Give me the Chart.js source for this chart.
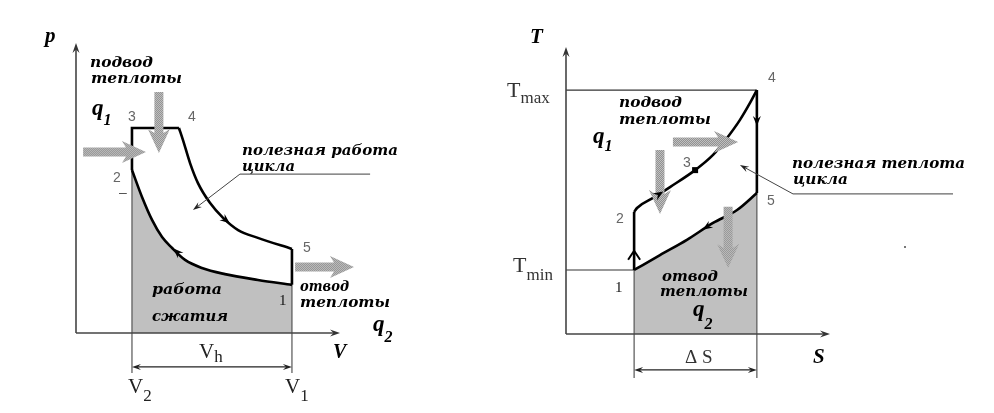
<!DOCTYPE html>
<html>
<head>
<meta charset="utf-8">
<script src="https://cdn.jsdelivr.net/npm/chart.js@4.4.0/dist/chart.umd.min.js"></script>
<style>
  html, body { margin: 0; padding: 0; background: #fff; }
  #wrap { position: relative; width: 994px; height: 413px; }
  .box { position: absolute; top: 0; width: 497px; height: 413px; }
</style>
</head>
<body>
<div id="wrap">
  <div class="box" style="left:0"><canvas id="pv" width="497" height="413"></canvas></div>
  <div class="box" style="left:497px"><canvas id="ts" width="497" height="413"></canvas></div>
</div>
<script>
// p-V: сжатие 2 -> 1 и расширение 4 -> 5 (условные единицы)
const pvCompV = [2.12, 2.50, 2.88, 3.26, 3.64, 4.13, 4.77, 5.64, 6.89, 8.18];
const pvCompP = [5.62, 4.69, 3.90, 3.31, 2.93, 2.52, 2.24, 2.03, 1.83, 1.66];
const pvExpV = [3.90, 4.05, 4.32, 4.62, 5.08, 5.57, 6.14, 6.89, 8.18];
const pvExpP = [7.07, 6.66, 5.86, 5.17, 4.48, 3.97, 3.55, 3.28, 2.90];
// точки цикла 1..5
const pvPointV = [8.18, 2.12, 2.12, 3.90, 8.18];
const pvPointP = [1.66, 5.62, 7.07, 7.07, 2.90];

// T-S: линия 2 -> 4 (через 3) и линия 1 -> 5
const tsUpS = [2.69, 3.30, 3.94, 4.89, 5.57, 6.10, 6.59, 6.97, 7.23];
const tsUpT = [4.39, 4.74, 5.12, 5.71, 6.24, 6.83, 7.46, 8.05, 8.50];
const tsLowS = [2.58, 3.56, 4.58, 5.57, 6.48, 7.23];
const tsLowT = [2.23, 2.75, 3.28, 3.87, 4.32, 4.91];
const tsPointS = [2.58, 2.58, 4.89, 7.23, 7.23];
const tsPointT = [2.23, 4.25, 5.71, 8.50, 4.91];

const SERIF = '"Liberation Serif", "DejaVu Serif", serif';
const SANS = '"Liberation Sans", Arial, sans-serif';

const xy = (xs, ys) => xs.map((x, i) => ({ x: x, y: ys[i] }));

function line(data, opts) {
  return Object.assign({
    data: data, borderColor: '#000', borderWidth: 2.6, pointRadius: 0,
    fill: false, tension: 0, clip: false, order: 0
  }, opts || {});
}
const smooth = { cubicInterpolationMode: 'monotone' };

// штриховка для серых стрелок
const pat = document.createElement('canvas');
pat.width = 2; pat.height = 2;
const pc = pat.getContext('2d');
pc.fillStyle = '#c4c4c4'; pc.fillRect(0, 0, 2, 2);
pc.fillStyle = '#8e8e8e'; pc.fillRect(0, 0, 1, 1); pc.fillRect(1, 1, 1, 1);

function heatArrow(ctx, x1, y1, x2, y2) {
  const ang = Math.atan2(y2 - y1, x2 - x1), L = Math.hypot(x2 - x1, y2 - y1);
  const hw = 4.5, hh = 11, hl = 20;
  ctx.save();
  ctx.translate(x1, y1); ctx.rotate(ang);
  ctx.beginPath();
  ctx.moveTo(0, -hw); ctx.lineTo(L - hl, -hw); ctx.lineTo(L - hl - 4, -hh);
  ctx.lineTo(L, 0);
  ctx.lineTo(L - hl - 4, hh); ctx.lineTo(L - hl, hw); ctx.lineTo(0, hw);
  ctx.closePath();
  ctx.fillStyle = ctx.createPattern(pat, 'repeat');
  ctx.fill();
  ctx.restore();
}

function head(ctx, x, y, ang, len, half, color) {
  ctx.save();
  ctx.translate(x, y); ctx.rotate(ang);
  ctx.beginPath();
  ctx.moveTo(0, 0); ctx.lineTo(-len, -half); ctx.lineTo(-len * 0.65, 0); ctx.lineTo(-len, half);
  ctx.closePath();
  ctx.fillStyle = color || '#000';
  ctx.fill();
  ctx.restore();
}

function seg(ctx, a, b, color, w) {
  ctx.beginPath(); ctx.moveTo(a[0], a[1]); ctx.lineTo(b[0], b[1]);
  ctx.strokeStyle = color; ctx.lineWidth = w; ctx.stroke();
}

// курсивные подписи, растянутые до нужной ширины
function fitText(ctx, txt, x, y, w) {
  ctx.save();
  ctx.font = 'italic bold 14px "DejaVu Serif", serif';
  ctx.fillStyle = '#000';
  ctx.textAlign = 'left'; ctx.textBaseline = 'alphabetic';
  const m = ctx.measureText(txt).width;
  ctx.translate(x, y); ctx.scale(w / m, 1);
  ctx.fillText(txt, 0, 0);
  ctx.restore();
}

function txt(ctx, s, x, y, font, color) {
  ctx.font = font; ctx.fillStyle = color || '#000';
  ctx.textAlign = 'left'; ctx.textBaseline = 'alphabetic';
  ctx.fillText(s, x, y);
}

function withSub(ctx, main, sub, x, y, fMain, fSub, dy, color) {
  txt(ctx, main, x, y, fMain, color);
  ctx.font = fMain;
  const w = ctx.measureText(main).width;
  txt(ctx, sub, x + w, y + dy, fSub, color);
}

// оси, стрелки, подписи
function decoPlugin(cfg) {
  return {
    id: 'deco',
    afterDatasetsDraw(chart) {
      const ctx = chart.ctx, sx = chart.scales.x, sy = chart.scales.y;
      const P = (a, b) => [sx.getPixelForValue(a), sy.getPixelForValue(b)];
      const o = P(0, 0), xe = P(sx.max, 0), ye = P(0, sy.max);
      ctx.save();
      // оси
      seg(ctx, o, [xe[0] - 4, xe[1]], '#444', 1.6);
      seg(ctx, o, [ye[0], ye[1] + 4], '#444', 1.6);
      head(ctx, xe[0], xe[1], 0, 10, 3.5, '#333');
      head(ctx, ye[0], ye[1], -Math.PI / 2, 10, 3.5, '#333');
      // размерная линия
      const d1 = P(cfg.dim[0], cfg.dim[2]), d2 = P(cfg.dim[1], cfg.dim[2]);
      seg(ctx, [d1[0] + 4, d1[1]], [d2[0] - 4, d2[1]], '#222', 1.2);
      head(ctx, d1[0], d1[1], Math.PI, 9, 3, '#222');
      head(ctx, d2[0], d2[1], 0, 9, 3, '#222');
      // выноска
      const u1 = P(cfg.lead[0], cfg.lead[1]), u2 = P(cfg.lead[2], cfg.lead[1]), le = P(cfg.lead[3], cfg.lead[4]);
      seg(ctx, u1, u2, '#666', 1.3);
      const ang = Math.atan2(le[1] - u1[1], le[0] - u1[0]);
      seg(ctx, u1, [le[0] - 6 * Math.cos(ang), le[1] - 6 * Math.sin(ang)], '#444', 1);
      head(ctx, le[0], le[1], ang, 9, 3, '#222');
      // подвод/отвод теплоты
      cfg.heat.forEach(h => {
        const a = P(h[0], h[1]), b = P(h[2], h[3]);
        heatArrow(ctx, a[0], a[1], b[0], b[1]);
      });
      // направление процессов
      cfg.dirs.forEach(d => {
        const a = P(d[0], d[1]), b = P(d[2], d[3]);
        const an = Math.atan2(b[1] - a[1], b[0] - a[0]);
        const t = d[4];
        head(ctx, a[0] + (b[0] - a[0]) * t, a[1] + (b[1] - a[1]) * t, an, 10, 4, '#000');
      });
      cfg.draw(ctx, P);
      ctx.restore();
    }
  };
}

function makeChart(id, datasets, pad, deco) {
  return new Chart(document.getElementById(id), {
    type: 'line',
    data: { datasets: datasets },
    options: {
      responsive: false,
      animation: false,
      events: [],
      layout: { padding: pad },
      plugins: { legend: { display: false }, tooltip: { enabled: false } },
      scales: {
        x: { type: 'linear', min: 0, max: 10, display: false },
        y: { type: 'linear', min: 0, max: 10, display: false }
      }
    },
    plugins: [decoPlugin(deco)]
  });
}

// ---------- p-V ----------
const pvComp = xy(pvCompV, pvCompP);
const pvExp = xy(pvExpV, pvExpP);
const pvPt = xy(pvPointV, pvPointP);

makeChart('pv', [
  line(pvComp, smooth),
  line(pvExp, smooth),
  line([pvPt[1], pvPt[2], pvPt[3]]),
  line([pvPt[4], pvPt[0]]),
  line([{ x: pvPointV[1], y: pvPointP[1] }, { x: pvPointV[1], y: -1.38 }], { borderColor: '#555', borderWidth: 1.2, order: 2 }),
  line([{ x: pvPointV[0], y: pvPointP[0] }, { x: pvPointV[0], y: -1.38 }], { borderColor: '#555', borderWidth: 1.2, order: 2 }),
  line(pvComp, Object.assign({ borderWidth: 0, fill: 'origin', backgroundColor: '#c0c0c0', order: 5 }, smooth))
], { left: 76, top: 43, right: 157, bottom: 80 }, {
  dim: [pvPointV[1], pvPointV[0], -1.17],
  lead: [6.21, 5.48, 11.14, 4.43, 4.24],
  heat: [[0.27, 6.24, 2.65, 6.24], [3.14, 8.31, 3.14, 6.21], [8.30, 2.28, 10.53, 2.28]],
  dirs: [[pvExpV[5], pvExpP[5], pvExpV[6], pvExpP[6], 0.45], [pvCompV[5], pvCompP[5], pvCompV[3], pvCompP[3], 0.5]],
  draw(ctx, P) {
    [['подвод', 90, 67, 63], ['теплоты', 91, 83, 91], ['полезная работа', 242, 155, 156], ['цикла', 242, 171, 53],
     ['отвод', 300, 291, 49], ['теплоты', 300, 307, 90], ['работа', 152, 294, 70], ['сжатия', 152, 321, 76]]
      .forEach(t => fitText(ctx, t[0], t[1], t[2], t[3]));
    const qf = 'italic bold 23px ' + SERIF, qs = 'italic bold 16px ' + SERIF;
    withSub(ctx, 'q', '1', 92, 115, qf, qs, 10);
    withSub(ctx, 'q', '2', 373, 331, qf, qs, 11);
    txt(ctx, 'p', 45, 42, 'italic bold 21px ' + SERIF);
    txt(ctx, 'V', 333, 358, 'italic bold 20px ' + SERIF);
    const nf = '14px ' + SANS;
    txt(ctx, '3', 128, 121, nf, '#666');
    txt(ctx, '4', 188, 121, nf, '#666');
    txt(ctx, '2', 113, 182, nf, '#666');
    txt(ctx, '–', 119, 197, nf, '#555');
    txt(ctx, '5', 303, 252, nf, '#666');
    txt(ctx, '1', 279, 305, '15px ' + SERIF, '#111');
    const rf = '21px ' + SERIF, rs = '17px ' + SERIF;
    withSub(ctx, 'V', 'h', 199, 358, rf, rs, 4, '#222');
    withSub(ctx, 'V', '2', 128, 393, rf, rs, 8, '#222');
    withSub(ctx, 'V', '1', 285, 393, rf, rs, 8, '#222');
  }
});

// ---------- T-S ----------
const tsPt = xy(tsPointS, tsPointT);
const tsUp = [tsPt[1]].concat(xy(tsUpS, tsUpT));
const tsLow = xy(tsLowS, tsLowT);

makeChart('ts', [
  line(tsUp, smooth),
  line(tsLow, smooth),
  line([tsPt[0], tsPt[1]]),
  line([tsPt[3], tsPt[4]]),
  line([{ x: 0, y: tsPointT[3] }, tsPt[3]], { borderColor: '#333', borderWidth: 1.2, order: 2 }),
  line([{ x: 0, y: tsPointT[0] }, tsPt[0]], { borderColor: '#333', borderWidth: 1.2, order: 2 }),
  line([tsPt[0], { x: tsPointS[0], y: -1.53 }], { borderColor: '#555', borderWidth: 1.2, order: 2 }),
  line([tsPt[4], { x: tsPointS[4], y: -1.53 }], { borderColor: '#555', borderWidth: 1.2, order: 2 }),
  line(tsLow, Object.assign({ borderWidth: 0, fill: 'origin', backgroundColor: '#c0c0c0', order: 5 }, smooth))
], { left: 69, top: 47, right: 164, bottom: 79 }, {
  dim: [tsPointS[0], tsPointS[4], -1.25],
  lead: [8.60, 4.88, 14.66, 6.59, 5.89],
  heat: [[4.05, 6.69, 6.52, 6.69], [3.56, 6.41, 3.56, 4.18], [6.14, 4.43, 6.14, 2.30]],
  dirs: [[tsPointS[3], tsPointT[3], tsPointS[4], tsPointT[4], 0.35],
         [tsLowS[3], tsLowT[3], tsLowS[2], tsLowT[2], 0.4],
         [tsUpS[1], tsUpT[1], tsUpS[2], tsUpT[2], 0.6]],
  draw(ctx, P) {
    // стрелка 1 -> 2 (открытая)
    const a = P(tsPointS[0], 2.9);
    ctx.beginPath();
    ctx.moveTo(a[0] - 6, a[1] + 9); ctx.lineTo(a[0], a[1]); ctx.lineTo(a[0] + 6, a[1] + 9);
    ctx.strokeStyle = '#000'; ctx.lineWidth = 2; ctx.stroke();
    // точка 3
    const p3 = P(tsPointS[2], tsPointT[2]);
    ctx.fillStyle = '#000'; ctx.fillRect(p3[0] - 3, p3[1] - 3, 6, 6);
    [['подвод', 122, 107, 63], ['теплоты', 122, 124, 92], ['полезная теплота', 295, 168, 173], ['цикла', 296, 184, 55],
     ['отвод', 165, 281, 56], ['теплоты', 163, 296, 88]]
      .forEach(t => fitText(ctx, t[0], t[1], t[2], t[3]));
    const qf = 'italic bold 23px ' + SERIF, qs = 'italic bold 16px ' + SERIF;
    withSub(ctx, 'q', '1', 96, 143, qf, qs, 8);
    withSub(ctx, 'q', '2', 196, 316, qf, qs, 13);
    txt(ctx, 'T', 33, 43, 'italic bold 21px ' + SERIF);
    txt(ctx, 'S', 316, 363, 'italic bold 21px ' + SERIF);
    const nf = '14px ' + SANS;
    txt(ctx, '4', 271, 82, nf, '#666');
    txt(ctx, '3', 186, 167, nf, '#666');
    txt(ctx, '2', 119, 223, nf, '#666');
    txt(ctx, '5', 270, 205, nf, '#666');
    txt(ctx, '1', 118, 292, '15px ' + SERIF, '#111');
    const rf = '22px ' + SERIF, rs = '17px ' + SERIF;
    withSub(ctx, 'T', 'max', 10, 97, rf, rs, 6, '#333');
    withSub(ctx, 'T', 'min', 16, 272, rf, rs, 8, '#333');
    txt(ctx, 'Δ S', 188, 363, '19px ' + SERIF, '#333');
    ctx.fillStyle = '#777'; ctx.fillRect(407, 246, 2, 2);
  }
});
</script>
</body>
</html>
